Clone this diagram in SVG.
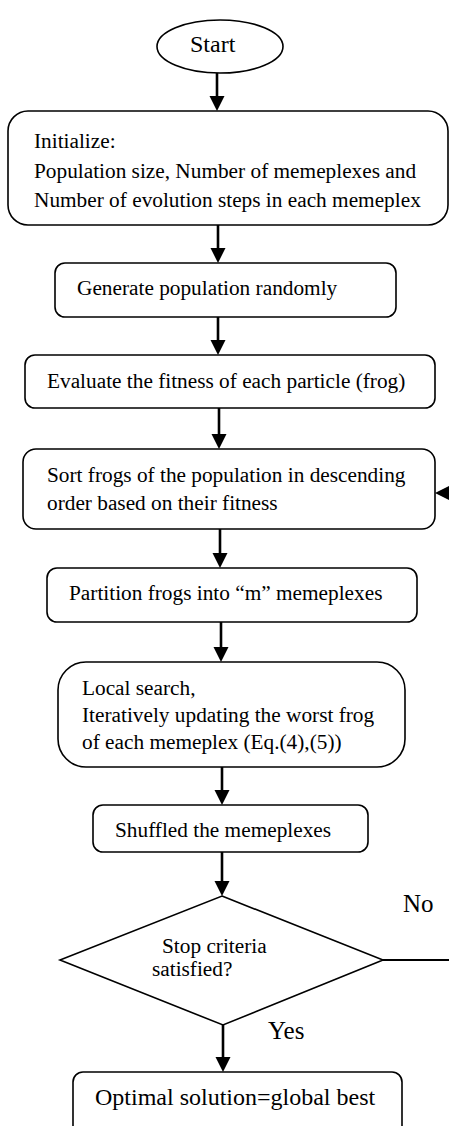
<svg xmlns="http://www.w3.org/2000/svg" width="449" height="1126" viewBox="0 0 449 1126">
<style>
.box{fill:#fff;stroke:#000;stroke-width:1.6}
.t{font-family:"Liberation Serif","Times New Roman",serif;font-size:21.3px;fill:#000}
.big{font-size:24px}
.lbl{font-family:"Liberation Serif","Times New Roman",serif;font-size:25px;fill:#000}
.arr{fill:none;stroke:#000;stroke-width:2.6}
.fb{fill:none;stroke:#000;stroke-width:1.8}
</style>
<defs>
<marker id="ah" markerUnits="userSpaceOnUse" markerWidth="16" markerHeight="16" refX="0" refY="7.5" orient="auto" viewBox="0 0 16 15">
<path d="M0,0 L15,7.5 L0,15 z" fill="#000"/>
</marker>
</defs>
<rect width="449" height="1126" fill="#fff"/>
<g id="connectors">
<path class="arr" d="M217,73 V96" marker-end="url(#ah)"/>
<path class="arr" d="M218,225 V248" marker-end="url(#ah)"/>
<path class="arr" d="M218,317 V340" marker-end="url(#ah)"/>
<path class="arr" d="M219,408 V434" marker-end="url(#ah)"/>
<path class="arr" d="M220,529 V553" marker-end="url(#ah)"/>
<path class="arr" d="M221,622 V647" marker-end="url(#ah)"/>
<path class="arr" d="M222,767 V790" marker-end="url(#ah)"/>
<path class="arr" d="M222,852 V881" marker-end="url(#ah)"/>
<path class="arr" d="M223,1025 V1057" marker-end="url(#ah)"/>
<path class="fb" d="M383,960 H462 V493 H450" marker-end="url(#ah)"/>
</g>
<g id="start">
<ellipse class="box" cx="220" cy="46.5" rx="63" ry="26.5"/>
<text class="t big" x="190" y="52">Start</text>
</g>
<g id="initialize">
<rect class="box" x="8" y="111" width="440" height="114" rx="20"/>
<text class="t" x="34" y="148">Initialize:</text>
<text class="t" x="34" y="178">Population size, Number of memeplexes and</text>
<text class="t" x="34" y="207">Number of evolution steps in each memeplex</text>
</g>
<g id="generate">
<rect class="box" x="55" y="263" width="341" height="54" rx="10"/>
<text class="t" x="77" y="295">Generate population randomly</text>
</g>
<g id="evaluate">
<rect class="box" x="25" y="355" width="410" height="53" rx="10"/>
<text class="t" x="47" y="388">Evaluate the fitness of each particle (frog)</text>
</g>
<g id="sort">
<rect class="box" x="23" y="449" width="412" height="80" rx="13"/>
<text class="t" x="47" y="482">Sort frogs of the population in descending</text>
<text class="t" x="47" y="510">order based on their fitness</text>
</g>
<g id="partition">
<rect class="box" x="47" y="568" width="370" height="54" rx="10"/>
<text class="t" x="69" y="600">Partition frogs into “m” memeplexes</text>
</g>
<g id="local">
<rect class="box" x="58" y="662" width="347" height="105" rx="28"/>
<text class="t" x="82" y="695">Local search,</text>
<text class="t" x="82" y="722">Iteratively updating the worst frog</text>
<text class="t" x="82" y="749">of each memeplex (Eq.(4),(5))</text>
</g>
<g id="shuffle">
<rect class="box" x="93" y="805" width="275" height="47" rx="10"/>
<text class="t" x="115" y="837">Shuffled the memeplexes</text>
</g>
<g id="decision">
<polygon class="box" points="222,896 383,960 223,1025 60,960"/>
<text class="t" x="162" y="953">Stop criteria</text>
<text class="t" x="152" y="976">satisfied?</text>
</g>
<g id="labels">
<text class="lbl" x="403" y="912">No</text>
<text class="lbl" x="268" y="1039">Yes</text>
</g>
<g id="optimal">
<rect class="box" x="73" y="1072" width="329" height="66" rx="10"/>
<text class="t big" x="95" y="1105">Optimal solution=global best</text>
</g>
</svg>
